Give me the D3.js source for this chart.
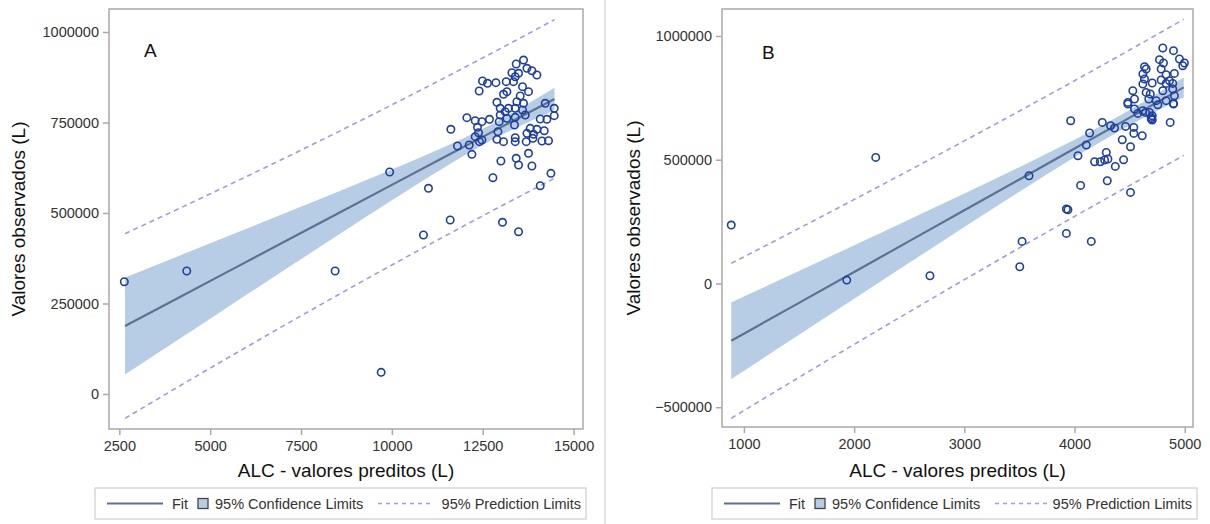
<!DOCTYPE html>
<html><head><meta charset="utf-8">
<script src="https://cdn.jsdelivr.net/npm/d3@7"></script>
<style>
body{margin:0;background:#fff;}
svg{display:block;font-family:"Liberation Sans",Arial,sans-serif;}
</style></head>
<body><svg id="chart" width="1210" height="524"></svg>
<script>
// ---------- Panel A data ----------
const aObsX = [13622,13421,13716,13853,13991,13303,13394,13347,13485,13146,12862,12631,12493,12402,13595,13760,13165,13072,13531,13440,13622,12890,12981,13209,13394,13595,14220,14467,14467,13669,13118,12981,13165,13394,12064,12292,12477,12686,12356,12953,13374,14082,14266,11623,12383,12918,13806,13991,14192,13716,13897,12292,12477,12890,13072,13394,13394,13696,13881,14129,14310,11805,12127,12411,12202,13000,13421,13485,13760,13853,12780,14376,14082,11007,11604,13044,10869,13485,2638,4356,8438,9705,9939];
const aObsY = [922500,911500,899700,893000,881200,887500,876500,862700,885900,862700,860000,858300,864600,837000,848900,835100,835100,827900,823200,807400,803000,805800,789200,789200,789200,784500,803000,789200,768800,770700,779800,770700,761600,764300,763300,755000,752200,758800,736700,752200,743100,759700,758800,731200,721800,724600,733900,731200,727300,720100,717400,710800,701700,703500,697000,708000,697000,697000,706300,698900,699700,685100,687800,697000,662100,643600,651100,632600,664900,629800,597500,609600,575400,568200,480600,474300,439200,448300,310200,339700,339700,59900,613200];
const aBandX  = [2657,4000,5500,7000,8500,10000,11500,12800,14474];
const aFit    = [187800,259100,338700,418300,497900,577600,657200,726200,815000];
const aCIlo   = [53800,142300,241100,339600,437700,535000,629400,704200,784000];
const aCIhi   = [321800,375900,436300,497000,558100,620200,685000,748200,846000];
const aPIlo   = [-67300,12700,100700,187400,272700,356400,438400,508100,595800];
const aPIhi   = [442900,505500,576700,649200,723100,798800,876000,944300,1034200];
const aXTicks = [2500,5000,7500,10000,12500,15000];
const aYTicks = [0,250000,500000,750000,1000000];

// ---------- Panel B data ----------
const bObsX = [885,2196,1933,2688,3503,3524,3926,3926,3940,4152,4055,4508,4297,3587,3965,4031,4107,4137,4252,4327,4363,4288,4182,4234,4273,4303,4370,4445,4433,4508,4463,4538,4538,4614,4868,4484,4544,4696,4705,4644,4756,4898,4801,4898,4952,4997,4982,4771,4807,4635,4650,4620,4786,4906,4831,4635,4786,4862,4891,4620,4705,4831,4529,4650,4687,4801,4891,4906,4544,4484,4674,4741,4831,4898,4620,4680,4696,4705,4574];
const bObsY = [236000,509300,13700,31100,67500,169800,202100,300700,297900,169800,396100,367800,415100,435300,657600,516200,559400,607900,650800,637400,628100,529500,491900,491900,498800,502800,472900,500000,580800,552500,634600,630600,606300,597000,650800,725100,704900,664500,677800,691200,722300,725100,951500,940600,907000,890900,879900,904200,890900,875900,866600,846400,866600,848800,843600,826200,822100,819300,808400,806000,810000,808400,778900,772000,765500,778900,785700,758700,745300,731600,745300,738500,738500,727600,698000,691200,671000,660500,687100];
const bBandX  = [885,1500,2000,2500,3000,3500,4000,4400,4991];
const bFit    = [-231600,-78300,46400,171000,295700,420300,545000,644700,792200];
const bCIlo   = [-386500,-207300,-61700,83300,227800,370700,509700,613900,752200];
const bCIhi   = [-76700,50700,154500,258700,363600,469900,580300,675500,832200];
const bPIlo   = [-544600,-379300,-246300,-114800,15300,143800,270700,370900,517200];
const bPIhi   = [81400,222700,339100,456800,576100,696800,819300,918500,1067200];
const bXTicks = [1000,2000,3000,4000,5000];
const bYTicks = [-500000,0,500000,1000000];

const xTitle = "ALC - valores preditos (L)";
const yTitle = "Valores observados (L)";
const legendLabels = ["Fit","95% Confidence Limits","95% Prediction Limits"];

const svg = d3.select("#chart");
const C = {band:"#b7cde6", fit:"#5d7190", dash:"#9d9de0", mark:"#1f3f9e", frame:"#a9a9a9", text:"#333"};

// separator
svg.append("line").attr("x1",605).attr("x2",605).attr("y1",0).attr("y2",524)
  .attr("stroke","#dcdcdc").attr("stroke-width",1.5);

function panel(cfg){
  const g = svg.append("g");
  const x = d3.scaleLinear().domain(cfg.xDom).range([cfg.left, cfg.right]);
  const y = d3.scaleLinear().domain(cfg.yDom).range([cfg.bottom, cfg.top]);
  const band = cfg.bandX.map((v,i)=>({x:v, fit:cfg.fit[i], clo:cfg.ciLo[i], chi:cfg.ciHi[i], plo:cfg.piLo[i], phi:cfg.piHi[i]}));
  g.append("path").datum(band).attr("fill",C.band)
    .attr("d", d3.area().x(d=>x(d.x)).y0(d=>y(d.clo)).y1(d=>y(d.chi)).curve(d3.curveMonotoneX));
  g.append("path").datum(band).attr("fill","none").attr("stroke",C.fit).attr("stroke-width",2.2)
    .attr("d", d3.line().x(d=>x(d.x)).y(d=>y(d.fit)));
  ["plo","phi"].forEach(k=>{
    g.append("path").datum(band).attr("fill","none").attr("stroke",C.dash).attr("stroke-width",1.6)
      .attr("stroke-dasharray","5,4")
      .attr("d", d3.line().x(d=>x(d.x)).y(d=>y(d[k])).curve(d3.curveMonotoneX));
  });
  g.selectAll("circle.pt").data(cfg.obsX.map((v,i)=>[v,cfg.obsY[i]])).enter().append("circle")
    .attr("class","pt").attr("cx",d=>x(d[0])).attr("cy",d=>y(d[1])).attr("r",3.7)
    .attr("fill","none").attr("stroke",C.mark).attr("stroke-width",1.6);
  // frame
  g.append("rect").attr("x",cfg.left).attr("y",cfg.top).attr("width",cfg.right-cfg.left).attr("height",cfg.bottom-cfg.top)
    .attr("fill","none").attr("stroke",C.frame).attr("stroke-width",1.5);
  // axes
  const xa = g.append("g").attr("transform",`translate(0,${cfg.bottom})`)
    .call(d3.axisBottom(x).tickValues(cfg.xTicks).tickFormat(d3.format("d")).tickSize(6).tickPadding(6));
  const ya = g.append("g").attr("transform",`translate(${cfg.left},0)`)
    .call(d3.axisLeft(y).tickValues(cfg.yTicks).tickFormat(d3.format("d")).tickSize(6).tickPadding(4));
  [xa,ya].forEach(a=>{
    a.select(".domain").remove();
    a.selectAll("line").attr("stroke",C.frame).attr("stroke-width",1.5);
    a.selectAll("text").attr("fill",C.text).style("font-size","14.5px").style("font-family","'Liberation Sans',Arial,sans-serif");
  });
  g.append("text").attr("x",cfg.tag[0]).attr("y",cfg.tag[1]).text(cfg.label)
    .style("font-size","19px").attr("fill","#111");
  g.append("text").attr("x",(cfg.left+cfg.right)/2).attr("y",477).attr("text-anchor","middle")
    .style("font-size","19px").attr("fill","#111").text(xTitle);
  g.append("text").attr("transform",`translate(${cfg.yTitleX},${(cfg.top+cfg.bottom)/2}) rotate(-90)`)
    .attr("text-anchor","middle").style("font-size","19px").attr("fill","#111").text(yTitle);
  // legend
  const L = cfg.legend;
  const lg = g.append("g");
  lg.append("rect").attr("x",L.x).attr("y",488).attr("width",L.w).attr("height",31)
    .attr("fill","#fff").attr("stroke","#cfcfcf").attr("stroke-width",1.2);
  const cy = 503.5;
  lg.append("line").attr("x1",L.x+12).attr("x2",L.x+68).attr("y1",cy).attr("y2",cy).attr("stroke",C.fit).attr("stroke-width",2.2);
  lg.append("text").attr("x",L.x+77).attr("y",cy+5).text(legendLabels[0]);
  lg.append("rect").attr("x",L.x+103).attr("y",cy-5).attr("width",10).attr("height",10)
    .attr("fill",C.band).attr("stroke","#444").attr("stroke-width",1.3);
  lg.append("text").attr("x",L.x+120).attr("y",cy+5).text(legendLabels[1]);
  lg.append("line").attr("x1",L.x+283).attr("x2",L.x+337).attr("y1",cy).attr("y2",cy).attr("stroke",C.dash)
    .attr("stroke-width",1.4).attr("stroke-dasharray","4,4");
  lg.append("text").attr("x",L.w+L.x-5).attr("y",cy+5).attr("text-anchor","end").text(legendLabels[2]);
  lg.selectAll("text").style("font-size","14.5px").attr("fill","#333");
}

panel({left:109, right:583, top:9, bottom:429, xDom:[2216,15259], yDom:[-96700,1063500],
  obsX:aObsX, obsY:aObsY, bandX:aBandX, fit:aFit, ciLo:aCIlo, ciHi:aCIhi, piLo:aPIlo, piHi:aPIhi,
  xTicks:aXTicks, yTicks:aYTicks, label:"A", tag:[144,57], yTitleX:25, legend:{x:95,w:491}});
panel({left:722, right:1193, top:9, bottom:427, xDom:[801,5075], yDom:[-580000,1109000],
  obsX:bObsX, obsY:bObsY, bandX:bBandX, fit:bFit, ciLo:bCIlo, ciHi:bCIhi, piLo:bPIlo, piHi:bPIhi,
  xTicks:bXTicks, yTicks:bYTicks, label:"B", tag:[762,59], yTitleX:640, legend:{x:712,w:485}});
</script></body></html>
